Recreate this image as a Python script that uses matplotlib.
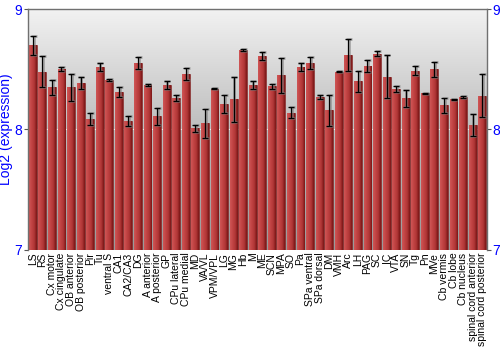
import numpy as np
import matplotlib
matplotlib.use("Agg")
import matplotlib.pyplot as plt
from matplotlib.colors import LinearSegmentedColormap

plt.rcParams['font.family'] = ['Liberation Sans', 'DejaVu Sans']

categories = ["LS", "RS", "Cx motor", "Cx cingulate", "OB anterior", "OB posterior",
              "Pir", "Tu", "ventral S", "CA1", "CA2/CA3", "DG", "A anterior",
              "A posterior", "GP", "CPu lateral", "CPu medial", "MD", "VA/VL",
              "VPM/VPL", "LG", "MG", "Hb", "M", "ME", "SCN", "MPA", "SO", "Pa",
              "SPa ventral", "SPa dorsal", "DM", "VMH", "Arc", "LH", "PAG", "SC",
              "IC", "VTA", "SN", "Tg", "Pn", "MVe", "Cb vermis", "Cb lobe",
              "Cb nucleus", "spinal cord anterior", "spinal cord posterior"]
values = [8.70, 8.48, 8.35, 8.50, 8.35, 8.39, 8.09, 8.52, 8.41, 8.31, 8.07, 8.55,
          8.37, 8.11, 8.37, 8.26, 8.46, 8.01, 8.05, 8.34, 8.21, 8.25, 8.66, 8.37,
          8.61, 8.36, 8.45, 8.14, 8.52, 8.55, 8.27, 8.16, 8.48, 8.62, 8.40, 8.53,
          8.63, 8.44, 8.34, 8.26, 8.49, 8.30, 8.50, 8.20, 8.25, 8.27, 8.04, 8.28]
errors = [0.08, 0.13, 0.06, 0.015, 0.11, 0.05, 0.05, 0.03, 0.01, 0.04, 0.04, 0.05,
          0.01, 0.07, 0.03, 0.025, 0.05, 0.03, 0.12, 0.005, 0.075, 0.19, 0.01, 0.03,
          0.03, 0.02, 0.145, 0.045, 0.035, 0.05, 0.02, 0.13, 0.005, 0.13, 0.09, 0.05,
          0.02, 0.18, 0.025, 0.07, 0.04, 0.005, 0.06, 0.06, 0.005, 0.005, 0.09, 0.18]
y_ticks = [7, 8, 9]

fig = plt.figure(figsize=(5, 3.5), dpi=100)
ax = fig.add_axes([0.056, 0.286, 0.918, 0.688])

n = len(categories)
x = np.arange(n)
width = 0.82
ax.set_xlim(-0.5, n - 0.5)
ax.set_ylim(7, 9)

# background vertical gradient
bg = LinearSegmentedColormap.from_list("bg", ["#999999", "#bdbdbd", "#f2f2f2"])
grad = np.linspace(0, 1, 256).reshape(-1, 1)
ax.imshow(grad, cmap=bg, aspect="auto", extent=(0, 1, 0, 1), origin="lower",
          transform=ax.transAxes, zorder=0)

ax.axhline(8, color="#f0f0f0", lw=0.8, zorder=1)

bar_cmap = LinearSegmentedColormap.from_list(
    "bar", ["#cf5656", "#c24444", "#b03636", "#7a1616"])
hgrad = np.linspace(0, 1, 64).reshape(1, -1)
bars = ax.bar(x, [v - 7 for v in values], bottom=7, width=width,
              color="#b83a3a", edgecolor="#6e1414", linewidth=0.4, zorder=2)
for b in bars:
    x0 = b.get_x()
    w = b.get_width()
    h = b.get_height()
    im = ax.imshow(hgrad, cmap=bar_cmap, aspect="auto",
                   extent=(x0, x0 + w, 7, 7 + h), zorder=2.5)
    im.set_clip_path(b)

# error bars with soft shadow
ax.errorbar(x + 0.08, values, yerr=errors, fmt="none", ecolor="#808080",
            elinewidth=2.0, capsize=2.5, capthick=2.0, alpha=0.6, zorder=3)
ax.errorbar(x, values, yerr=errors, fmt="none", ecolor="black",
            elinewidth=0.9, capsize=2.2, capthick=0.9, zorder=4)

ax.set_xticks(x)
ax.set_xticklabels(categories, rotation=90, fontsize=7.5, color="black")
ax.tick_params(axis="x", length=0, pad=2)
ax.set_yticks(y_ticks)
ax.tick_params(axis="y", labelcolor="blue", labelsize=10, length=3,
               color="#555555", right=True, labelright=True, pad=1)
ax.set_ylabel("Log2 (expression)", color="blue", fontsize=10, labelpad=1)

for s in ["left", "right", "top"]:
    ax.spines[s].set_color("#707070")
    ax.spines[s].set_linewidth(1.0)
ax.spines["bottom"].set_visible(False)

fig.savefig("out.png", dpi=100)
